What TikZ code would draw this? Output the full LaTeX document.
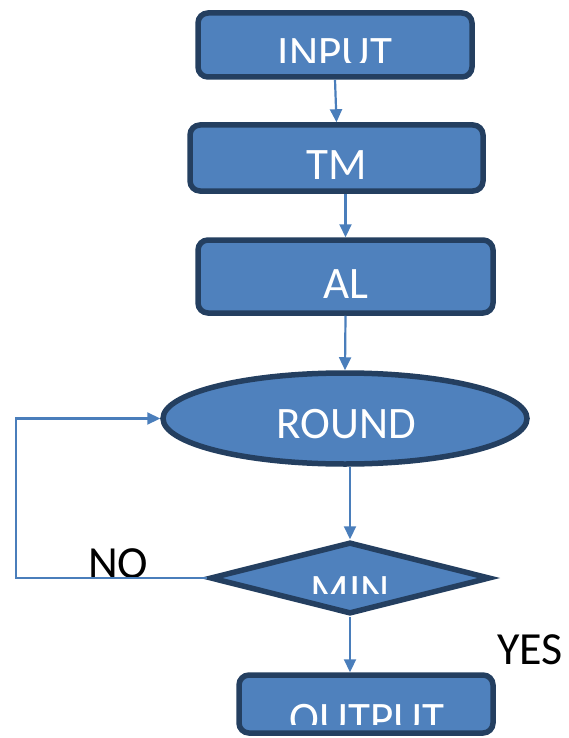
\documentclass[tikz,border=0pt]{standalone}
\usepackage{fontspec}
\setmainfont{Carlito}
\usetikzlibrary{shapes.geometric,arrows.meta}
\definecolor{boxfill}{HTML}{4F81BD}
\definecolor{boxline}{HTML}{243F60}
\definecolor{connc}{HTML}{4A7EBB}
\begin{document}
\begin{tikzpicture}[x=1pt,y=1pt,
  shp/.style={draw=boxline,fill=boxfill,line width=5.5pt,inner sep=0pt},
  box/.style={shp,rectangle,rounded corners=10pt},
  lbl/.style={text=white,font=\fontsize{45}{45}\selectfont,anchor=base,inner sep=0pt},
  side/.style={text=black,font=\fontsize{46}{46}\selectfont,anchor=base west,inner sep=0pt},
  conn/.style={draw=connc,line width=2.2pt,-{Triangle[length=13pt,width=12pt]}}]
\useasboundingbox (0,0) rectangle (568,-738);
% shapes
\node[box,minimum width=274pt,minimum height=64pt] (input) at (335,-45) {};
\node[box,minimum width=293pt,minimum height=66pt] (tm) at (336.5,-158) {};
\node[box,minimum width=295pt,minimum height=73pt] (al) at (345.5,-276.5) {};
\node[shp,ellipse,minimum width=364pt,minimum height=91pt] (round) at (345,-418.5) {};
\node[shp,diamond,minimum width=280pt,minimum height=72pt] (min) at (350,-578) {};
\node[box,minimum width=254pt,minimum height=58pt] (output) at (366,-704) {};
% texts
\begin{scope}
\clip (0,-62.5) rectangle (568,0);
\node[lbl] (tinput) at (335,-68) {INPUT};
\end{scope}
\node[lbl] (ttm) at (337,-179) {TM};
\node[lbl] (tal) at (346,-298) {AL};
\node[lbl] (tround) at (346,-438) {ROUND};
\begin{scope}
\clip (0,-593) rectangle (568,-560);
\node[lbl] (tmin) at (350,-605) {MIN};
\end{scope}
\begin{scope}
\clip (0,-724) rectangle (568,-690);
\node[lbl] (toutput) at (367,-733) {OUTPUT};
\end{scope}
\node[side] (no) at (88,-578) {NO};
\node[side] (yes) at (497,-664) {YES};
% connectors
\coordinate (lb) at (16,-578);
\coordinate (lt) at (16,-418.5);
\draw[conn] (input.south) -- (tm.north);
\draw[conn] (al.north |- tm.south) -- (al.north);
\draw[conn] (al.south) -- (round.north);
\draw[conn] (min.north |- round.south) -- (min.north);
\draw[conn] (min.south) -- (min.south |- output.north);
\draw[conn] (min.west) -- (lb) -- (lt) -- (round.west);
\end{tikzpicture}
\end{document}
